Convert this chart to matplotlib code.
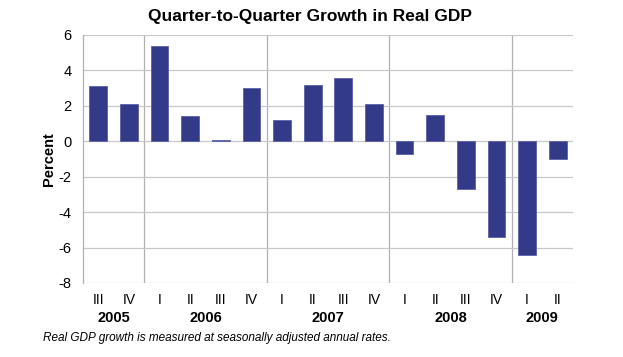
import matplotlib
matplotlib.use("Agg")
import matplotlib.pyplot as plt
from matplotlib.transforms import blended_transform_factory

plt.rcParams['font.family'] = ['Liberation Sans', 'DejaVu Sans']

quarters = ["III", "IV", "I", "II", "III", "IV", "I", "II", "III", "IV",
            "I", "II", "III", "IV", "I", "II"]
years = ["2005", "2006", "2007", "2008", "2009"]
quarters_per_year = [2, 4, 4, 4, 2]
growth = [3.1, 2.1, 5.4, 1.4, 0.1, 3.0, 1.2, 3.2, 3.6, 2.1,
          -0.7, 1.5, -2.7, -5.4, -6.4, -1.0]
yticks = [-8, -6, -4, -2, 0, 2, 4, 6]

fig = plt.figure(figsize=(6.23, 3.57), dpi=100)
ax = fig.add_axes([0.1332, 0.2073, 0.7865, 0.6947])

x = list(range(len(growth)))
ax.bar(x, growth, width=0.58, color="#333a87", edgecolor="#5a60a8", linewidth=0.6, zorder=3)

ax.set_xlim(-0.5, len(growth) - 0.5)
ax.set_ylim(-8, 6)
ax.set_yticks(yticks)
ax.set_yticklabels([str(v) for v in yticks], fontsize=10.5)
ax.yaxis.grid(True, color="#c8c8c8", linewidth=0.9, zorder=0)
ax.tick_params(axis='y', length=0, pad=8)

ax.set_xticks(x)
ax.set_xticklabels(quarters, fontsize=10)
ax.tick_params(axis='x', length=0, pad=7)

for s in ['top', 'right', 'bottom']:
    ax.spines[s].set_visible(False)
ax.spines['left'].set_color("#b0b0b0")
ax.spines['left'].set_linewidth(0.9)

# year separators and labels
trans = blended_transform_factory(ax.transData, ax.transAxes)
start = 0
for i, (yr, n) in enumerate(zip(years, quarters_per_year)):
    end = start + n
    if i < len(years) - 1:
        ax.axvline(end - 0.5, color="#b0b0b0", linewidth=0.9, zorder=1)
    ax.text((start + end - 1) / 2, -0.113, yr, transform=trans, ha='center', va='top',
            fontsize=10.5, fontweight='bold')
    start = end

ax.set_ylabel("Percent", fontsize=10.5, fontweight='bold', labelpad=2)

fig.text(0.497, 0.955, "Quarter-to-Quarter Growth in Real GDP", ha='center', va='center',
         fontsize=12.5, fontweight='bold')
fig.text(0.069, 0.052, "Real GDP growth is measured at seasonally adjusted annual rates.",
         ha='left', va='center', fontsize=8.5, style='italic')

fig.savefig("out.png", dpi=100)
